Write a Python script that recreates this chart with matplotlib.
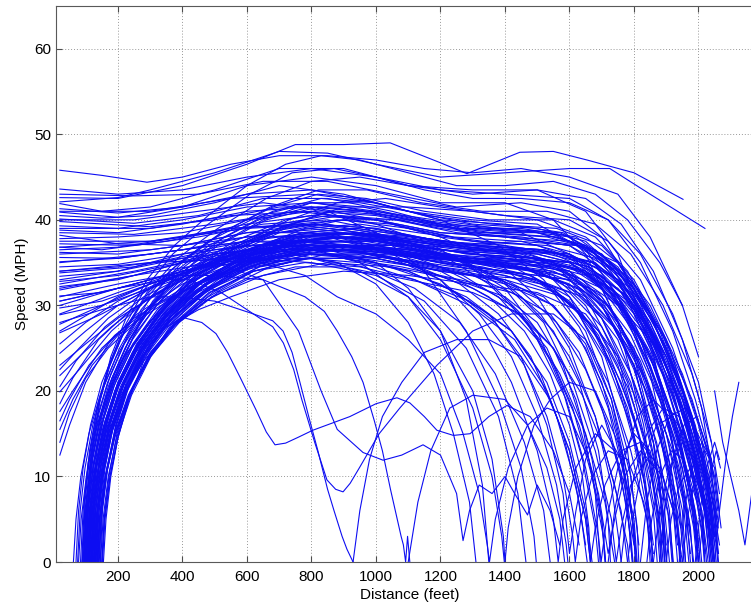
import matplotlib
matplotlib.use("Agg")
import matplotlib.pyplot as plt

# ------------------------------------------------------------
# speed traces: (distance ft, speed mph)
# ------------------------------------------------------------

# runs already moving when the record starts (left edge)
left_start = [
    [(20,45.8),(150,45.2),(290,44.4),(400,45),(550,46.5),(700,47.5),(850,47.5),(1000,47),(1150,46),(1300,45.5),(1450,46),(1600,45),(1750,43),(1850,38),(1950,30),(2000,24)],
    [(20,42.6),(200,42.5),(400,44),(600,46.5),(750,48.8),(900,48.8),(1044,49),(1198,46.7),(1282,45.4),(1446,47.9),(1550,48),(1654,47),(1800,45.5),(1952,42.4)],
    [(20,42.1),(200,42.6),(300,43.5),(500,45.5),(700,48),(850,47.8),(1000,46.5),(1200,45),(1400,45.5),(1600,46),(1725,46),(1850,43),(2020,39)],
    [(20,41.9),(150,41),(300,41.5),(500,43.5),(700,46),(900,46),(1100,44),(1300,43.5),(1500,43.5),(1650,41),(1750,36),(1850,26),(1920,14),(1960,0)],
    [(20,40.9),(200,40.3),(400,41.5),(600,44),(800,45),(1000,44),(1200,42),(1400,42),(1550,40),(1650,36),(1750,28),(1830,16),(1870,6),(1885,0)],
    [(20,40.5),(150,40.2),(300,40.5),(500,42),(700,44),(900,43),(1100,41),(1300,40),(1500,39.5),(1650,36.5),(1750,31),(1850,22),(1920,10),(1945,0)],
    [(20,40.1),(250,39.6),(450,40.5),(650,42.5),(850,42.5),(1050,41),(1250,39),(1450,38.5),(1600,36),(1700,32),(1800,24),(1880,12),(1910,0)],
    [(20,38.8),(200,38.5),(400,39.5),(600,41),(800,41.5),(1000,40),(1200,38),(1400,37),(1550,35),(1650,31),(1750,24),(1820,14),(1850,5),(1858,0)],
    [(20,37.8),(200,38),(400,38.5),(600,40),(800,41),(1000,40.5),(1200,39),(1400,38),(1600,37),(1750,33),(1850,25),(1950,13),(1990,4),(2000,0)],
    [(20,37.2),(250,37),(450,38),(650,39.5),(850,40),(1050,38.5),(1250,37),(1450,37.5),(1600,36),(1700,33),(1800,27),(1900,17),(1960,7),(1975,0)],
    [(20,36.8),(150,36.5),(350,37.5),(550,39),(750,39.5),(950,38.5),(1150,37),(1350,36.5),(1500,35),(1600,31),(1700,24),(1780,13),(1810,4),(1815,0)],
    [(20,36.2),(200,36),(400,37),(600,38.5),(800,38.5),(1000,37.5),(1200,36.5),(1400,36),(1600,35),(1750,31),(1850,24),(1950,14),(2010,6),(2030,0)],
    [(20,35.1),(200,35.5),(400,36.5),(600,38),(800,39),(1000,38),(1200,36),(1400,35),(1550,32),(1650,27),(1730,19),(1780,10),(1800,3),(1805,0)],
    [(20,34.5),(200,34.8),(400,36),(600,37.5),(800,38.5),(1000,37),(1200,35.5),(1400,35),(1600,34),(1750,30),(1850,23),(1930,14),(1980,6),(2000,0)],
    [(20,33.4),(200,34),(400,35.5),(600,37),(800,37.5),(1000,36.5),(1200,35),(1400,34),(1600,33),(1700,30),(1800,24),(1880,15),(1920,7),(1935,0)],
    [(20,32.2),(200,33),(400,35),(600,36.5),(800,37),(1000,36),(1200,35.5),(1400,35.5),(1600,35),(1750,32),(1850,27),(1950,19),(2030,8),(2050,0)],
    [(20,31.1),(150,31.5),(300,33),(500,35.5),(700,37),(900,37),(1100,36),(1300,35),(1500,34),(1650,31),(1750,26),(1830,18),(1880,9),(1895,0)],
    [(20,29.7),(150,30.5),(300,32.5),(500,35),(700,36.5),(900,36.5),(1100,35),(1300,33.5),(1450,31),(1550,27),(1630,21),(1690,13),(1720,5),(1727,0)],
    [(20,28.9),(150,30),(300,32),(500,34.5),(700,36),(900,37),(1100,37),(1300,36),(1500,35.5),(1650,34),(1800,30),(1900,24),(1970,16),(2015,7),(2035,0)],
    [(20,26.8),(150,29),(300,32),(450,34.5),(650,37),(850,38.5),(1050,38),(1250,37),(1450,36),(1600,34),(1700,30),(1800,23),(1860,14),(1890,5),(1895,0)],
    [(20,24.4),(100,27),(200,30),(350,33),(550,36),(750,38),(950,38.5),(1150,37.5),(1350,36.5),(1550,35),(1700,31),(1800,25),(1900,15),(1950,6),(1960,0)],
    [(20,23),(100,25.5),(200,28.5),(350,32),(550,35.5),(750,37.5),(950,37),(1150,35.5),(1350,35),(1550,34.5),(1700,32),(1850,26),(1950,18),(2000,11),(2020,7)],
    [(20,21.8),(80,24),(180,27.5),(300,31),(500,35),(700,38.5),(900,40),(1100,40),(1300,39),(1500,38.5),(1650,37),(1800,32),(1900,25),(1980,16),(2040,6),(2055,0)],
    [(20,19.9),(80,22.5),(180,27),(300,31),(500,35.5),(700,39),(900,41.5),(1100,41.5),(1300,41),(1500,40),(1650,38),(1750,35),(1850,29),(1950,20),(2020,11),(2045,4)],
    [(20,17.6),(60,20),(150,25),(250,28.5),(400,32),(600,35),(800,36.5),(1000,36),(1200,34.5),(1400,33),(1550,30),(1650,25),(1720,18),(1770,10),(1795,0)],
    [(20,43),(250,42.8),(450,43),(650,44.5),(850,44.5),(1050,43),(1250,41.5),(1450,42),(1600,41),(1700,38),(1800,32),(1900,23),(1970,13),(2000,7)],
    [(20,38.2),(200,37.2),(400,37),(600,38.5),(800,39.5),(1000,39),(1200,37.5),(1400,36.5),(1600,36),(1750,33),(1850,28),(1950,20),(2000,14)],
    [(20,12.5),(50,16),(100,21),(170,25.5),(260,29),(400,32.5),(600,35.5),(800,37),(1000,36.5),(1200,35),(1400,34),(1600,33),(1700,30),(1800,23),(1860,14),(1890,6),(1900,0)],
    [(20,15.5),(60,19),(120,23),(200,26.5),(320,30),(500,33.5),(700,36),(900,37),(1100,36.5),(1300,35),(1500,34),(1650,31.5),(1750,27),(1850,19),(1910,10),(1935,2)],
    [(20,41.3),(200,40.8),(400,41.5),(600,43),(800,43.5),(1000,42),(1200,40),(1400,39.5),(1580,38.5),(1700,35.5),(1800,30),(1890,22),(1960,13),(2010,5),(2020,0)],
    [(20,39.3),(200,39),(400,40),(600,41.5),(800,42),(1000,41),(1200,39.5),(1400,39),(1600,38),(1720,35),(1820,29.5),(1910,21),(1980,12),(2030,4)],
    [(20,36.5),(200,36.8),(400,38),(600,39.5),(800,40.5),(1000,40),(1200,38.5),(1400,38),(1600,37),(1740,34),(1840,28),(1930,20),(2000,11),(2040,3)],
    [(20,35.6),(200,35.5),(400,36.5),(600,37.5),(800,37.5),(1000,36.5),(1200,35),(1400,34),(1550,32),(1660,28),(1740,22),(1800,14),(1840,6),(1850,0)],
    [(20,34),(200,34.5),(400,35.5),(600,36.5),(800,37),(1000,36.5),(1200,35.5),(1400,35),(1600,34.5),(1730,32),(1830,27),(1920,19.5),(1990,11),(2040,3)],
    [(20,32.8),(200,33.5),(400,35),(600,36),(800,36.5),(1000,36),(1200,34.5),(1400,33.5),(1560,31.5),(1670,27.5),(1760,21),(1830,13),(1870,5),(1880,0)],
    [(20,30.5),(200,32),(400,34),(600,35.5),(800,36),(1000,35.5),(1200,34),(1400,33),(1580,31),(1690,27),(1780,20.5),(1850,12.5),(1890,4),(1895,0)],
    [(20,27.8),(150,30),(300,32.5),(500,35),(700,37),(900,38),(1100,37.5),(1300,36.5),(1500,36),(1660,34.5),(1780,31),(1880,25),(1960,17),(2020,9),(2050,2)],
    [(20,25.5),(100,28),(200,30.5),(350,33),(550,35.5),(750,37),(950,37),(1150,36),(1350,35),(1550,34),(1690,31.5),(1790,26.5),(1880,19),(1940,11),(1975,3)],
    [(20,22.5),(80,25),(170,28.5),(300,32),(480,35),(680,37.5),(880,38.5),(1080,38),(1280,37),(1480,36.5),(1640,35),(1760,31.5),(1860,25.5),(1940,17),(2000,8),(2020,2)],
    [(20,20.5),(70,23.5),(160,27.5),(280,31),(460,34.5),(660,37),(860,38),(1060,37.5),(1260,36.5),(1460,36),(1620,34.5),(1740,31),(1840,25),(1920,17),(1980,8),(2000,2)],
    [(20,18.5),(60,21.5),(140,26),(240,29.5),(400,33),(600,36),(800,37.5),(1000,37.5),(1200,36.5),(1400,35.5),(1580,34),(1700,30.5),(1800,24.5),(1880,16),(1930,7),(1945,1)],
    [(20,16.5),(50,19),(110,23),(190,26.5),(310,30),(480,33),(680,35.5),(880,36.5),(1080,36),(1280,35),(1480,34),(1630,32),(1740,27.5),(1830,20.5),(1900,12),(1945,4)],
    [(20,14),(50,17.5),(100,21.5),(170,25),(270,28.5),(420,32),(620,35),(820,36.5),(1020,36.5),(1220,35.5),(1420,34.5),(1600,33.5),(1720,30),(1820,23.5),(1900,15),(1960,6),(1975,1)],
    [(20,43.6),(200,43),(400,43.5),(600,45),(800,46),(1000,45),(1200,43.5),(1400,43),(1600,42.5),(1720,40),(1820,35),(1920,27),(1990,19),(2040,12)],
    [(20,39.8),(300,39.2),(500,40),(700,41.5),(900,41.5),(1100,40),(1300,38.5),(1500,38.5),(1650,37),(1760,33),(1860,26.5),(1950,18),(2010,10),(2050,3)],
]

# runs that pull away from a stop near the start line
entry = [
    [(92,0),(100,6),(115,11),(140,16),(175,20),(230,24.5),(310,28.5),(420,32),(560,35),(700,37),(850,38),(1000,37.5),(1200,36),(1400,35),(1550,33.5),(1650,30),(1750,23),(1820,14),(1860,6),(1872,0)],
    [(98,0),(106,6),(122,12),(150,17.5),(190,22),(250,26.5),(330,30.5),(440,34),(600,37.5),(750,39.5),(900,40),(1100,39),(1300,37.5),(1500,37),(1650,35),(1750,31),(1850,24),(1930,15),(1980,7),(2000,0)],
    [(105,0),(112,5),(128,10.5),(155,15.5),(195,20),(255,24.5),(340,28.5),(450,32),(600,35),(800,37.5),(1000,37.5),(1200,36),(1400,35.5),(1600,34.5),(1700,32),(1800,27),(1880,20),(1950,11),(1985,4),(1995,0)],
    [(110,0),(118,7),(135,13),(165,18.5),(205,23),(270,28),(360,32.5),(480,36.5),(650,40),(800,42),(950,42),(1100,41),(1300,39.5),(1500,39),(1650,37.5),(1750,34),(1850,28),(1950,19),(2020,10),(2055,2),(2060,0)],
    [(115,0),(122,5),(140,10),(170,15),(215,19.5),(280,23.5),(370,27.5),(490,31),(650,33.5),(850,35),(1050,34.5),(1250,33),(1400,31),(1500,28),(1580,23),(1640,16),(1680,8),(1695,0)],
    [(120,0),(126,6),(140,11),(165,16),(200,20.5),(255,25),(330,29.5),(430,33.5),(560,37),(700,39.5),(850,40.5),(1000,40),(1200,38.5),(1400,38),(1600,37.5),(1750,35),(1850,30),(1950,22),(2030,13),(2060,5)],
    [(125,0),(132,5),(148,10),(175,15),(215,19.5),(275,24),(360,28.5),(470,32.5),(620,36),(800,38),(1000,38),(1200,36.5),(1400,36),(1600,35),(1720,32),(1820,26),(1900,17),(1950,8),(1970,0)],
    [(130,0),(138,6),(155,11.5),(185,16.5),(230,21),(300,25.5),(390,29.5),(510,33),(660,36),(850,37.5),(1050,37),(1250,35.5),(1450,34.5),(1600,32.5),(1700,28.5),(1790,21),(1850,12),(1880,4),(1885,0)],
    [(135,0),(142,5),(160,10),(190,15),(235,19.5),(300,24),(390,28),(510,31.5),(670,34.5),(850,36),(1050,35.5),(1250,34),(1400,32.5),(1550,30),(1650,25.5),(1730,18),(1780,10),(1800,3)],
    [(140,0),(147,5),(163,10),(190,14.5),(230,19),(290,23.5),(370,28),(480,32),(620,35.5),(780,38),(950,38.5),(1150,37.5),(1350,36.5),(1550,36),(1700,33.5),(1800,29),(1900,21),(1970,12),(2010,4),(2018,0)],
    [(150,0),(157,5),(172,10),(197,15),(235,19.5),(290,23.5),(370,27.5),(470,30.5),(600,33),(750,34.5),(900,34.5),(1100,33),(1300,31.5),(1450,29),(1550,25),(1620,19),(1670,12),(1700,5),(1710,0)],
    [(155,0),(163,5),(178,10),(200,14.5),(240,20),(300,24.5),(380,28),(450,29.5),(550,31),(700,33),(900,34),(1100,33.5),(1300,32.5),(1500,31.5),(1650,29),(1750,24),(1830,17),(1880,9),(1900,2)],
    [(95,0),(103,7),(118,13),(142,18.5),(175,23),(225,27.5),(295,31.5),(390,35),(520,38.5),(680,41.5),(820,43),(970,42.5),(1150,41),(1350,40),(1550,40),(1680,38),(1780,34),(1880,27),(1960,19),(2030,9),(2055,3)],
    [(100,0),(108,6),(124,11.5),(150,17),(188,21.5),(245,26),(320,30),(420,34),(560,37.5),(720,40),(880,41),(1050,40.5),(1250,39),(1450,39),(1620,38),(1750,34.5),(1850,29),(1950,20),(2010,12),(2045,4)],
    [(108,0),(116,6),(133,11.5),(160,16.5),(200,21),(260,25.5),(340,29.5),(445,33),(580,36),(740,38),(900,38.5),(1080,37.5),(1280,36),(1480,35.5),(1640,34),(1760,30),(1860,23),(1940,14),(1990,5),(2000,0)],
    [(112,0),(119,5),(135,10),(162,15),(200,19.5),(255,24),(330,28),(430,31.5),(560,34.5),(720,36.5),(880,37),(1060,36.5),(1260,35.5),(1460,35),(1620,33),(1720,29),(1800,22.5),(1870,14),(1910,6),(1920,0)],
    [(118,0),(125,6),(142,12),(170,17),(210,21.5),(270,26),(350,30),(460,33.5),(600,36.5),(770,38.5),(940,39),(1120,38),(1320,37),(1520,36.5),(1680,34.5),(1800,30),(1900,23),(1980,15),(2040,7),(2060,1)],
    [(122,0),(128,5),(145,10),(172,15),(210,19.5),(265,23.5),(340,27.5),(440,31),(570,34),(730,36),(900,36.5),(1100,36),(1300,35),(1480,33.5),(1600,30.5),(1700,25.5),(1780,18),(1830,10),(1855,2)],
    [(128,0),(135,6),(152,11.5),(180,16.5),(222,21),(282,25.5),(362,29.5),(470,33),(610,36.5),(780,39),(950,39.5),(1130,38.5),(1330,37.5),(1530,37),(1680,35.5),(1790,31.5),(1880,25),(1960,16),(2020,7),(2040,0)],
    [(132,0),(139,5),(156,10.5),(184,15.5),(226,20),(288,24.5),(370,28.5),(480,32),(620,34.5),(800,36),(1000,35.5),(1200,34),(1380,33),(1520,31),(1620,27),(1700,21),(1760,13),(1795,5),(1805,0)],
    [(138,0),(145,6),(160,11),(186,16),(224,20.5),(280,25),(355,29),(455,32.5),(590,35.5),(750,37.5),(920,38),(1100,37.5),(1300,36.5),(1500,36),(1660,34.5),(1780,31),(1880,24),(1960,15),(2020,6),(2035,0)],
    [(145,0),(152,6),(168,11),(194,16),(232,20.5),(290,25),(370,29),(475,32.5),(610,35.5),(770,37.5),(940,38.5),(1120,38),(1320,37),(1520,36.5),(1680,35),(1800,31),(1900,24),(1980,16),(2040,8),(2065,2)],
    [(102,0),(109,5),(126,10.5),(152,15.5),(190,20),(245,24.5),(320,28.5),(420,32.5),(550,36),(700,39),(850,41),(1000,41),(1180,40),(1380,39),(1570,38.5),(1700,36),(1800,32),(1900,25),(1980,17),(2040,9),(2060,4)],
    [(117,0),(124,6),(140,11.5),(167,16.5),(206,21),(264,25.5),(342,29.5),(445,33.5),(575,37),(730,40),(880,42),(1030,42.5),(1200,41.5),(1400,40.5),(1600,40),(1720,37.5),(1820,33),(1920,25),(2000,16),(2050,8)],
    [(126,0),(133,5),(150,10),(178,15),(218,19.5),(278,24),(356,28),(460,31.5),(590,34.5),(750,36.5),(920,37),(1100,36),(1300,34.5),(1480,33.5),(1600,31),(1690,26.5),(1760,20),(1820,12),(1850,5),(1858,0)],
    [(134,0),(141,6),(158,11.5),(186,16.5),(226,21),(286,25.5),(366,29.5),(470,33),(600,36),(760,38),(930,38.5),(1110,37.5),(1310,36.5),(1510,36.5),(1670,35),(1790,32),(1890,26.5),(1980,19),(2050,10),(2070,4)],
    [(142,0),(150,6),(166,11),(193,16),(232,20.5),(292,25),(372,29),(478,32.5),(615,35),(780,36.5),(950,36.5),(1130,35.5),(1330,34.5),(1500,33),(1620,29.5),(1710,24),(1790,16),(1840,8),(1860,2)],
    [(88,0),(96,7),(112,13),(136,18),(170,22.5),(220,27),(290,31.5),(385,35.5),(510,39),(660,42.5),(800,44.5),(950,45),(1100,44),(1300,43),(1500,43.5),(1650,42.5),(1760,39.5),(1860,34),(1950,26),(2010,18),(2045,10)],
    [(96,0),(104,6),(120,12),(146,17),(182,21.5),(235,26),(308,30.5),(405,34.5),(530,38),(680,41),(830,42.5),(990,42),(1160,40.5),(1360,39.5),(1560,39),(1700,37),(1800,33),(1900,26),(1980,17),(2030,9),(2045,3)],
    [(113,0),(120,6),(136,11.5),(162,16.5),(200,21),(258,25.5),(336,29.5),(440,33.5),(572,37),(730,39.5),(890,40.5),(1060,40),(1250,38.5),(1450,38),(1630,37),(1760,33.5),(1860,28),(1950,20),(2020,11),(2050,3)],
    [(100,0),(108,7),(122,13.5),(145,19),(178,24),(225,28.5),(290,33),(375,37),(480,40.5),(600,44),(720,46.5),(830,47.5),(950,47),(1100,45.5),(1250,44),(1400,44),(1550,44.5),(1680,43),(1780,40),(1880,35),(1950,30)],
    [(90,0),(98,7),(114,13),(138,18.5),(172,23),(220,27.5),(285,32),(370,36),(480,39.5),(610,43),(740,45.5),(870,46),(1000,45),(1150,43.5),(1300,42.5),(1450,42.5),(1600,42),(1720,40),(1820,36),(1920,29),(2000,21),(2040,14)],
    [(62,0),(70,5),(85,10),(110,15),(145,19.5),(195,24),(265,28.5),(360,32.5),(490,36),(650,38.5),(820,39.5),(1000,39),(1200,37.5),(1400,37),(1580,36),(1700,33),(1800,28),(1880,20),(1940,12),(1975,4),(1982,0)],
    [(70,0),(78,6),(92,11),(115,16),(150,21),(200,25.5),(270,30),(360,34),(480,37.5),(640,40.5),(800,42),(960,41.5),(1140,40),(1340,39),(1540,38.5),(1680,36),(1780,31),(1870,24),(1950,15),(2010,6),(2025,0)],
    [(78,0),(86,5),(102,10),(128,15),(165,19.5),(220,24),(295,28),(395,31.5),(530,34.5),(700,36.5),(880,37),(1060,36),(1260,34.5),(1450,33.5),(1600,31.5),(1700,27.5),(1780,21),(1840,13),(1880,5),(1890,0)],
    [(84,0),(92,6),(107,11.5),(132,16.5),(168,21),(220,25.5),(290,29.5),(385,33),(510,36),(670,38),(840,38.5),(1020,38),(1220,37),(1420,36.5),(1600,36),(1730,33.5),(1830,28.5),(1920,21),(1990,12),(2040,4),(2050,0)],
    [(106,0),(114,6),(130,11),(158,16),(198,20.5),(258,25),(340,29),(450,32.5),(590,35.5),(760,37.5),(930,38),(1110,37),(1310,36),(1500,35.5),(1650,34),(1760,30.5),(1850,24.5),(1930,16),(1980,8),(2000,2)],
    [(116,0),(124,6),(142,11),(172,16),(214,20.5),(276,25),(360,29),(470,32.5),(610,35.5),(780,37),(950,37),(1130,36),(1330,35),(1520,34),(1660,32),(1760,27.5),(1840,21),(1900,12),(1935,4),(1942,0)],
    [(124,0),(131,6),(148,11.5),(176,16.5),(216,21),(276,25.5),(356,29.5),(462,33),(600,36),(770,38.5),(940,39),(1120,38),(1320,37),(1520,36.5),(1670,35),(1780,31.5),(1870,26),(1950,18),(2010,9),(2040,2)],
    [(136,0),(144,5),(162,10),(192,15),(236,19.5),(300,24),(384,28),(494,31.5),(636,34.5),(800,36),(970,36),(1150,35),(1340,34),(1510,32.5),(1630,29.5),(1720,24.5),(1800,17),(1860,9),(1890,2)],
    [(146,0),(154,5),(170,10),(196,14.5),(236,19.5),(296,24),(376,28),(480,31),(620,34),(780,35.5),(950,35.5),(1130,34.5),(1320,33.5),(1500,33),(1640,31),(1750,27),(1840,21),(1920,13),(1970,5),(1985,0)],
    [(90,0),(98,6),(112,11),(136,16),(170,20.5),(222,25),(292,29.5),(386,33.5),(510,37),(660,40),(820,41.5),(980,41),(1160,39.5),(1360,38.5),(1560,38),(1700,36),(1810,32),(1910,25),(1990,16),(2045,7),(2062,1)],
    [(103,0),(111,6),(127,11.5),(154,16.5),(192,21),(250,25.5),(328,29.5),(432,33),(565,36.5),(720,39),(880,40),(1050,39.5),(1240,38),(1440,37.5),(1620,37),(1750,34),(1850,29),(1940,21.5),(2010,13),(2055,5)],
    [(121,0),(128,6),(145,11),(174,16),(214,20.5),(272,25),(350,29),(452,32.5),(585,35),(745,37),(910,37.5),(1090,36.5),(1290,35.5),(1490,35),(1650,33.5),(1770,29.5),(1860,23.5),(1940,15),(1990,6),(2005,0)],
    [(131,0),(138,6),(155,11),(183,16),(224,20.5),(284,25),(364,29),(468,32.5),(602,35.5),(762,37.5),(930,38),(1110,37),(1310,36),(1500,35),(1640,33),(1740,29),(1820,23),(1890,15),(1940,6),(1955,0)],
    [(94,0),(102,7),(117,12.5),(142,17.5),(178,22),(230,26.5),(302,31),(398,35),(522,38.5),(672,41.5),(822,43.5),(972,43.5),(1140,42),(1330,41),(1530,41),(1680,39.5),(1790,36),(1890,30),(1980,22),(2040,14),(2065,8)],
    [(75,0),(83,6),(98,11),(122,16),(156,20.5),(205,25),(272,29.5),(362,33.5),(482,37),(636,40),(796,41.5),(956,41),(1136,39.5),(1336,38.5),(1530,38),(1680,36.5),(1790,33),(1890,26.5),(1970,18),(2030,9),(2050,3)],
    [(109,0),(117,5),(134,10),(162,15),(202,19.5),(262,24),(342,28),(446,31.5),(580,34),(740,35.5),(900,35.5),(1080,34.5),(1260,33),(1420,31.5),(1540,29),(1630,24.5),(1700,18),(1760,10),(1790,3),(1797,0)],
    [(127,0),(134,5),(151,10),(180,15),(222,19.5),(284,24),(366,28),(472,31.5),(610,34.5),(775,36.5),(945,37),(1125,36.5),(1325,35.5),(1525,35),(1680,33.5),(1800,29.5),(1900,23),(1980,14),(2030,5),(2045,0)],
    [(99,0),(107,6),(123,11),(149,16),(187,20.5),(243,25),(318,29),(420,32.5),(550,35.5),(710,37.5),(875,38),(1050,37),(1250,35.5),(1440,34.5),(1590,32.5),(1700,28.5),(1790,22),(1860,14),(1905,6),(1918,0)],
]

# runs that stop (and sometimes restart) before the finish
mid_stop = [
    [(20,33),(200,34),(400,36),(600,37),(800,37),(1000,35),(1100,32),(1200,27),(1280,19),(1330,9),(1350,0)],
    [(120,0),(130,6),(150,12),(180,17),(225,21.5),(290,26),(380,30),(500,33),(650,35),(800,35.5),(950,34),(1100,31),(1200,27),(1300,20),(1360,12),(1395,3),(1400,0),(1410,4),(1440,10),(1490,16),(1540,19),(1600,21),(1680,20),(1750,14),(1800,5),(1810,0)],
    [(20,30),(200,32),(400,34),(600,35.5),(800,35),(1000,33.5),(1150,30.5),(1280,25),(1380,17),(1440,8),(1465,0)],
    [(20,40),(250,40),(450,41),(650,42),(850,41),(1000,38.5),(1150,34),(1280,27),(1380,19),(1450,11),(1490,3),(1497,0)],
    [(105,0),(113,6),(130,11),(158,16),(198,20.5),(256,25),(334,29),(440,32.5),(580,35),(740,36),(880,35),(1000,32.5),(1100,28),(1180,22),(1240,15),(1290,7),(1310,0)],
    [(20,27),(200,31),(400,34),(600,36),(800,36.5),(1000,35),(1200,32.5),(1350,29),(1450,24),(1530,16),(1580,8),(1600,1),(1620,6),(1650,12),(1700,16),(1760,12),(1800,4),(1808,0)],
    [(140,0),(150,6),(168,11),(196,16),(238,21),(300,25.5),(380,29),(490,32),(640,34.5),(800,35.5),(960,34.5),(1120,32),(1260,28),(1370,22),(1460,14),(1520,6),(1540,0)],
    [(20,36),(300,36.5),(600,38),(850,38),(1050,36),(1200,33),(1320,28),(1420,21),(1500,13),(1550,5),(1565,0),(1580,5),(1620,11),(1680,15),(1740,13),(1780,6),(1795,0)],
    [(20,31.8),(250,33.5),(500,36),(750,37),(950,35),(1100,31),(1200,26),(1300,18),(1360,10),(1390,3),(1398,0)],
    [(20,37.5),(300,37.5),(600,39),(850,39.5),(1050,38),(1250,35.5),(1400,32),(1500,27),(1580,20),(1640,12),(1680,4),(1690,0)],
    [(110,0),(118,6),(134,11),(162,16),(202,20.5),(262,25),(342,29),(446,32.5),(580,35.5),(740,37.5),(910,37.5),(1090,36),(1270,33.5),(1420,30),(1530,25),(1610,18),(1670,10),(1705,3),(1712,0)],
    [(20,33.8),(250,34.5),(500,36.5),(750,37.5),(1000,36.5),(1200,34.5),(1380,31),(1500,26),(1590,19),(1650,11),(1690,3),(1698,0),(1715,5),(1750,11),(1800,15),(1850,13),(1890,6),(1902,0)],
    [(137,0),(144,5),(161,10),(190,15),(232,19.5),(294,24),(376,28),(482,31.5),(620,34),(780,35),(950,34.5),(1120,33),(1290,30.5),(1420,27),(1510,22),(1580,15),(1630,7),(1655,0)],
    [(20,38.5),(250,38.3),(500,39.5),(750,41),(1000,40),(1200,38),(1380,35),(1500,31),(1600,25),(1680,17),(1730,9),(1755,2),(1760,0)],
    [(100,0),(108,6),(124,11.5),(150,16.5),(188,21),(246,25.5),(322,29.5),(424,33),(556,36),(716,38),(880,38.5),(1060,37.5),(1250,35.5),(1400,32.5),(1520,28),(1610,21),(1680,13),(1730,5),(1745,0),(1760,4),(1790,9),(1840,12),(1890,10),(1930,5),(1945,0)],
    [(20,35),(300,36),(600,37.5),(850,37),(1050,35.5),(1200,33),(1320,29),(1420,24),(1500,17),(1560,9),(1590,2),(1595,0)],
    [(115,0),(123,6),(140,11),(168,16),(208,20.5),(268,25),(348,29),(452,32.5),(590,35),(750,36.5),(920,36.5),(1100,35),(1260,32.5),(1380,29),(1480,24),(1560,17),(1620,9),(1650,2)],
    [(20,39),(300,39),(550,40.5),(800,41),(1000,39.5),(1180,37),(1330,33.5),(1450,29),(1550,23),(1630,16),(1690,8),(1720,1),(1740,5),(1770,10),(1820,13),(1870,11),(1910,5),(1922,0)],
    [(130,0),(138,6),(155,11),(184,16),(225,20.5),(286,25),(366,29),(470,32.5),(606,35),(770,36),(940,35.5),(1100,34),(1250,31.5),(1370,28),(1460,23),(1530,17),(1580,10),(1610,3),(1618,0),(1635,5),(1670,10),(1720,13),(1780,12),(1830,7),(1860,1)],
    [(20,36.8),(300,37.5),(550,39),(800,39.5),(1000,38.5),(1200,36),(1350,32.5),(1470,28),(1570,22),(1650,15),(1710,7),(1740,0)],
    [(95,0),(103,6),(119,12),(145,17),(182,21.5),(236,26),(308,30),(404,33.5),(530,36.5),(690,38.5),(860,39),(1040,38),(1230,36),(1390,33),(1510,29),(1600,24),(1680,17),(1740,9),(1780,2),(1785,0)],
    [(20,29),(200,31.5),(400,34),(650,35.5),(900,35.5),(1100,34),(1280,31),(1420,27),(1530,21),(1600,14),(1650,6),(1670,0)],
    [(150,0),(158,5),(175,10),(202,15),(242,19.5),(302,24),(382,28),(486,31.5),(622,34),(780,35.5),(950,35),(1120,33),(1290,30),(1430,26),(1530,20),(1600,13),(1650,5),(1665,0)],
    [(20,41),(300,41),(550,42.5),(800,43),(1000,42),(1200,40),(1380,37),(1520,33),(1630,27.5),(1720,21),(1790,13),(1840,5),(1855,0)],
    [(108,0),(116,6),(132,11),(160,16),(200,20.5),(260,25),(340,29),(444,32.5),(578,35.5),(738,37.5),(908,38),(1088,37),(1280,35),(1440,32),(1560,28),(1650,22.5),(1720,16),(1770,9),(1800,2)],
    [(20,32.5),(250,34),(500,36),(750,37),(1000,36),(1200,34),(1350,31),(1460,27),(1540,22),(1600,16),(1640,10),(1660,4),(1665,0),(1680,4),(1710,9),(1760,13),(1820,14),(1880,11),(1930,5),(1950,0)],
    [(125,0),(132,5),(150,10),(178,15),(220,19.5),(280,24),(360,28),(466,31.5),(604,34.5),(770,36),(940,36),(1120,34.5),(1300,32),(1440,29),(1550,25),(1640,19.5),(1710,13),(1760,6),(1780,0)],
]

# short stop-and-go pieces near the finish
restart = [
    [(1860,0),(1880,6),(1910,11),(1950,14),(1990,12),(2030,6),(2048,0)],
    [(1900,0),(1915,5),(1940,9),(1975,11),(2010,8),(2040,3),(2050,0)],
    [(1820,0),(1840,7),(1870,13),(1910,17),(1960,18),(2010,14),(2050,6),(2062,0)],
    [(1940,0),(1955,6),(1980,11),(2010,14),(2040,12),(2060,6)],
    [(1780,0),(1800,6),(1830,12),(1870,16),(1920,17),(1970,14),(2020,7),(2045,0)],
    [(1720,0),(1740,6),(1770,12),(1810,17),(1860,19),(1910,17),(1960,11),(2000,4),(2010,0)],
    [(1950,0),(1965,5),(1990,10),(2020,13),(2050,11),(2065,6)],
    [(1880,0),(1895,6),(1920,12),(1955,16),(1995,17),(2035,12),(2060,4)],
    [(1990,0),(2005,6),(2025,11),(2050,14),(2065,12)],
    [(1840,0),(1855,5),(1880,10),(1915,13),(1955,12),(1995,7),(2020,1)],
    [(1760,0),(1775,5),(1800,10),(1840,15),(1890,18),(1940,17),(1990,11),(2030,4),(2040,0)],
    [(2000,0),(2015,5),(2035,10),(2055,13),(2068,11)],
    [(2050,0),(2065,6),(2085,12),(2105,17),(2125,21)],
    [(2050,20),(2075,14),(2100,10),(2125,6),(2144,2),(2165,8)],
]

# odd runs crossing the empty middle of the chart
odd = [
    [(152,0),(160,5),(176,10),(200,14.5),(235,19),(280,23.5),(330,27),(400,28.6),(460,28),(504,26.7),(540,24.5),(580,21.5),(628,17.8),(660,15.2),(687,13.7),(720,13.9),(760,14.6),(804,15.4),(919,17),(1000,18.5),(1065,19.2),(1105,18.6),(1150,17),(1189,15.4),(1240,14.8),(1292,15),(1350,17),(1406,18.3),(1478,17),(1550,13),(1600,8),(1630,2)],
    [(20,30.5),(200,32),(350,33),(420,33),(520,31.5),(620,29),(680,27.5),(713,25.6),(745,22.5),(770,19),(810,14),(848,9.6),(875,8.5),(898,8.2),(920,9.2),(950,11.1),(1010,15),(1074,18),(1189,23),(1300,27),(1420,29),(1550,29),(1650,26),(1730,19),(1790,10),(1815,2)],
    [(20,28),(150,29.5),(300,31),(380,31),(500,30.5),(620,29),(680,28.2),(712,27),(740,24.5),(765,20.9),(795,16.5),(820,13),(850,8.5),(870,6),(895,3),(910,1.5),(929,0)],
    [(929,0),(950,6),(980,12),(1020,17),(1080,21),(1150,24.5),(1250,26),(1350,26),(1450,24),(1540,19),(1600,13),(1650,5),(1665,0)],
    [(20,31),(200,32.5),(350,33.5),(500,33.5),(650,33),(780,31),(840,29.3),(880,27),(925,24),(960,21),(995,16.5),(1020,13),(1045,8.5),(1060,6),(1078,3),(1085,2),(1092,0),(1098,3),(1105,0)],
    [(1100,0),(1130,7),(1170,13),(1229,18),(1300,19.5),(1400,19),(1470,16),(1530,11),(1570,5),(1585,0)],
    [(20,32),(250,33.5),(500,35),(650,33),(760,27),(830,20),(880,15.5),(960,12.8),(1022,11.9),(1080,12.5),(1146,13.7),(1200,12.5),(1250,8),(1270,2.5),(1290,6),(1320,9),(1360,8),(1400,10),(1430,8),(1470,5.5),(1500,9),(1540,6),(1570,2)],
    [(20,34),(300,35),(600,35.5),(780,33.5),(880,31),(1000,29),(1100,26),(1200,22),(1270,15),(1320,8),(1345,2),(1352,0),(1370,5),(1410,11),(1470,16),(1530,18),(1600,17),(1660,12),(1700,5),(1712,0)],
]

fig = plt.figure(figsize=(7.51, 6.06), dpi=100)
plt.rcParams['font.family'] = ['Liberation Sans', 'DejaVu Sans']
# axes run off the right edge of the picture, like the cropped original
ax = fig.add_axes([56 / 751, 44 / 606, 707 / 751, 556 / 606])

for group in (left_start, entry, mid_stop, restart, odd):
    for run in group:
        d = [p[0] for p in run]
        v = [p[1] for p in run]
        ax.plot(d, v, color=(0.05, 0.05, 0.95), lw=0.8)

ax.set_xlim(8, 2200)
ax.set_ylim(0, 65)
ax.set_xticks([200, 400, 600, 800, 1000, 1200, 1400, 1600, 1800, 2000])
ax.set_yticks([0, 10, 20, 30, 40, 50, 60])
ax.grid(True, color='0.6', linestyle=(0, (1, 2)), lw=0.7)
ax.tick_params(direction='in', top=True, right=True, labelsize=11, length=4, color='0.3')
ax.tick_params(axis='x', pad=6)
for s in ax.spines.values():
    s.set_color('0.35')
ax.set_xlabel('Distance (feet)', fontsize=11, labelpad=3)
ax.set_ylabel('Speed (MPH)', fontsize=11, labelpad=4)

fig.savefig('out.png', dpi=100)
